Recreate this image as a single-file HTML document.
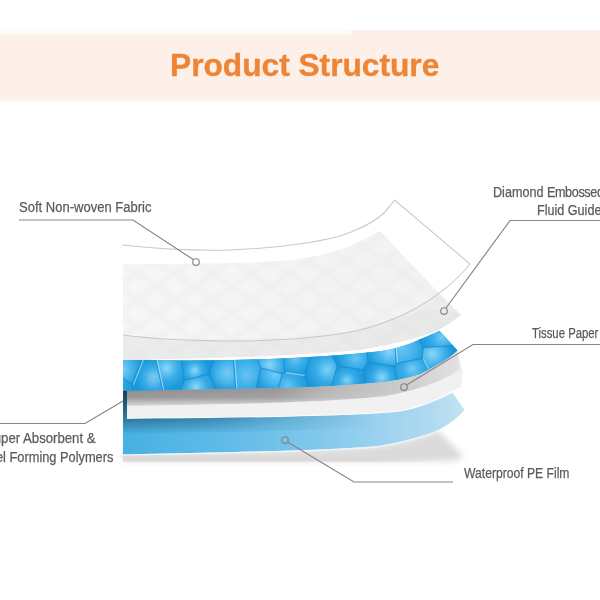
<!DOCTYPE html>
<html>
<head>
<meta charset="utf-8">
<style>
html,body{margin:0;padding:0;background:#fff;}
body{width:600px;height:600px;position:relative;overflow:hidden;font-family:"Liberation Sans",sans-serif;}
.band{position:absolute;background:#fdf0e8;}
.title{position:absolute;left:169.6px;top:49.2px;transform-origin:0 0;transform:scaleX(0.99);font-weight:bold;font-size:32px;line-height:32px;color:#ee8536;white-space:nowrap;-webkit-text-stroke:0.4px #ee8536;}
.lbl{position:absolute;font-size:14px;line-height:16px;color:#5b5b5b;-webkit-text-stroke:0.25px #5b5b5b;white-space:nowrap;transform-origin:0 0;}
svg{position:absolute;left:0;top:0;}
</style>
</head>
<body>
<div class="band" style="left:0;top:35px;width:351px;height:65px;"></div>
<div class="band" style="left:0;top:29px;width:351px;height:6px;background:#fefaf7;"></div>
<div class="band" style="left:351px;top:30px;width:249px;height:70px;"></div>
<div class="band" style="left:0;top:100px;width:600px;height:2px;background:#fef8f4;"></div>
<div class="title">Product Structure</div>

<svg width="600" height="600" viewBox="0 0 600 600">
  <defs>
    <filter id="blur3" x="-20%" y="-50%" width="140%" height="200%"><feGaussianBlur stdDeviation="3"/></filter>
    <filter id="blur2" x="-20%" y="-50%" width="140%" height="200%"><feGaussianBlur stdDeviation="2"/></filter>
    <filter id="blur1" x="-20%" y="-50%" width="140%" height="200%"><feGaussianBlur stdDeviation="1"/></filter>
    <linearGradient id="film" x1="123" y1="0" x2="465" y2="0" gradientUnits="userSpaceOnUse">
      <stop offset="0" stop-color="#48b0e2"/>
      <stop offset="0.3" stop-color="#5fbbe8"/>
      <stop offset="0.55" stop-color="#7fc7ec"/>
      <stop offset="0.75" stop-color="#9bd2ef"/>
      <stop offset="0.9" stop-color="#b0daf1"/>
      <stop offset="1" stop-color="#c2e2f3"/>
    </linearGradient>
    <linearGradient id="filmtop" x1="0" y1="419" x2="0" y2="434" gradientUnits="userSpaceOnUse">
      <stop offset="0" stop-color="#2a6a8c" stop-opacity="0.85"/>
      <stop offset="0.6" stop-color="#2f7aa0" stop-opacity="0.45"/>
      <stop offset="1" stop-color="#2f7aa0" stop-opacity="0"/>
    </linearGradient>
    <linearGradient id="filmtopfade" x1="123" y1="0" x2="440" y2="0" gradientUnits="userSpaceOnUse">
      <stop offset="0" stop-color="#fff" stop-opacity="1"/>
      <stop offset="0.25" stop-color="#fff" stop-opacity="0.75"/>
      <stop offset="0.5" stop-color="#fff" stop-opacity="0.3"/>
      <stop offset="0.8" stop-color="#fff" stop-opacity="0"/>
    </linearGradient>
    <mask id="ftmask"><rect x="0" y="0" width="600" height="600" fill="url(#filmtopfade)"/></mask>
    <linearGradient id="tissueShade" x1="0" y1="389" x2="0" y2="408" gradientUnits="userSpaceOnUse">
      <stop offset="0" stop-color="#8f8d8f"/>
      <stop offset="0.45" stop-color="#9a999a"/>
      <stop offset="0.7" stop-color="#bdbdbd"/>
      <stop offset="1" stop-color="#ebebeb"/>
    </linearGradient>
    <linearGradient id="tsfade" x1="123" y1="0" x2="460" y2="0" gradientUnits="userSpaceOnUse">
      <stop offset="0" stop-color="#fff" stop-opacity="1"/>
      <stop offset="0.45" stop-color="#fff" stop-opacity="0.9"/>
      <stop offset="0.6" stop-color="#fff" stop-opacity="0.6"/>
      <stop offset="0.85" stop-color="#fff" stop-opacity="0.35"/>
      <stop offset="1" stop-color="#fff" stop-opacity="0.15"/>
    </linearGradient>
    <mask id="tsmask"><rect x="0" y="0" width="600" height="600" fill="url(#tsfade)"/></mask>
    <linearGradient id="tex" x1="123" y1="0" x2="460" y2="0" gradientUnits="userSpaceOnUse">
      <stop offset="0" stop-color="#f5f5f5"/>
      <stop offset="1" stop-color="#efefef"/>
    </linearGradient>
    <linearGradient id="shfade" x1="123" y1="0" x2="443" y2="0" gradientUnits="userSpaceOnUse">
      <stop offset="0.8" stop-color="#dcdad9" stop-opacity="1"/>
      <stop offset="1" stop-color="#dcdad9" stop-opacity="0"/>
    </linearGradient>
    <linearGradient id="ledge" x1="0" y1="389" x2="0" y2="420" gradientUnits="userSpaceOnUse">
      <stop offset="0" stop-color="#163f52"/>
      <stop offset="0.4" stop-color="#1d5670"/>
      <stop offset="1" stop-color="#2f7fa8"/>
    </linearGradient>
    <clipPath id="sapclip">
      <path d="M123 359.6 C160 360.5 200 360.8 250 359.5 C290 358.5 340 356 380 351.3 C400 348 410 344 420 339.3 C428 336 434 333.5 439.5 330.8 L457.5 350.5 C451 356 446 360 440 363 C433 367 426 371 420 374 C405 378.5 395 380.5 380 382 C350 385 320 386.5 300 387.3 C250 388.5 200 389.2 123 390.8 Z"/>
    </clipPath>
    <clipPath id="texclip">
      <path d="M123 264 C200 264 250 263 280 261 C305 259 325 255 345 248 C360 242 370 236 380 231 L433 287 L461 315 C455 320 448 325 440 329 C420 338 400 343 360 350 C300 356 220 358 123 360 Z"/>
    </clipPath>
    <radialGradient id="c0" cx="119.9" cy="369.3" r="21.6" gradientUnits="userSpaceOnUse"><stop offset="0" stop-color="#8cd6f8"/><stop offset="0.55" stop-color="#45b4ec"/><stop offset="1" stop-color="#1c98da"/></radialGradient>
<radialGradient id="c1" cx="109.3" cy="379.9" r="21.4" gradientUnits="userSpaceOnUse"><stop offset="0" stop-color="#80d0f6"/><stop offset="0.55" stop-color="#36ace8"/><stop offset="1" stop-color="#209ddd"/></radialGradient>
<radialGradient id="c2" cx="153.9" cy="377.6" r="18.6" gradientUnits="userSpaceOnUse"><stop offset="0" stop-color="#80d0f6"/><stop offset="0.55" stop-color="#36ace8"/><stop offset="1" stop-color="#1c98da"/></radialGradient>
<radialGradient id="c3" cx="166.5" cy="368.4" r="21.0" gradientUnits="userSpaceOnUse"><stop offset="0" stop-color="#8cd6f8"/><stop offset="0.55" stop-color="#36ace8"/><stop offset="1" stop-color="#1c98da"/></radialGradient>
<radialGradient id="c4" cx="194.6" cy="370.4" r="14.2" gradientUnits="userSpaceOnUse"><stop offset="0" stop-color="#8cd6f8"/><stop offset="0.55" stop-color="#36ace8"/><stop offset="1" stop-color="#1c98da"/></radialGradient>
<radialGradient id="c5" cx="196.0" cy="387.0" r="19.3" gradientUnits="userSpaceOnUse"><stop offset="0" stop-color="#8cd6f8"/><stop offset="0.55" stop-color="#36ace8"/><stop offset="1" stop-color="#209ddd"/></radialGradient>
<radialGradient id="c6" cx="227.5" cy="373.0" r="18.7" gradientUnits="userSpaceOnUse"><stop offset="0" stop-color="#74cbf4"/><stop offset="0.55" stop-color="#45b4ec"/><stop offset="1" stop-color="#1c98da"/></radialGradient>
<radialGradient id="c7" cx="246.5" cy="374.6" r="21.3" gradientUnits="userSpaceOnUse"><stop offset="0" stop-color="#68c4f2"/><stop offset="0.55" stop-color="#3db0ea"/><stop offset="1" stop-color="#24a1e0"/></radialGradient>
<radialGradient id="c8" cx="269.7" cy="365.1" r="20.5" gradientUnits="userSpaceOnUse"><stop offset="0" stop-color="#8cd6f8"/><stop offset="0.55" stop-color="#3db0ea"/><stop offset="1" stop-color="#1c98da"/></radialGradient>
<radialGradient id="c9" cx="275.1" cy="374.0" r="19.0" gradientUnits="userSpaceOnUse"><stop offset="0" stop-color="#74cbf4"/><stop offset="0.55" stop-color="#45b4ec"/><stop offset="1" stop-color="#1c98da"/></radialGradient>
<radialGradient id="c10" cx="295.2" cy="359.4" r="15.6" gradientUnits="userSpaceOnUse"><stop offset="0" stop-color="#68c4f2"/><stop offset="0.55" stop-color="#36ace8"/><stop offset="1" stop-color="#209ddd"/></radialGradient>
<radialGradient id="c11" cx="287.5" cy="385.9" r="18.6" gradientUnits="userSpaceOnUse"><stop offset="0" stop-color="#68c4f2"/><stop offset="0.55" stop-color="#36ace8"/><stop offset="1" stop-color="#209ddd"/></radialGradient>
<radialGradient id="c12" cx="327.3" cy="369.6" r="21.8" gradientUnits="userSpaceOnUse"><stop offset="0" stop-color="#80d0f6"/><stop offset="0.55" stop-color="#36ace8"/><stop offset="1" stop-color="#1c98da"/></radialGradient>
<radialGradient id="c13" cx="355.9" cy="358.3" r="18.6" gradientUnits="userSpaceOnUse"><stop offset="0" stop-color="#68c4f2"/><stop offset="0.55" stop-color="#36ace8"/><stop offset="1" stop-color="#1c98da"/></radialGradient>
<radialGradient id="c14" cx="346.9" cy="380.5" r="14.5" gradientUnits="userSpaceOnUse"><stop offset="0" stop-color="#80d0f6"/><stop offset="0.55" stop-color="#36ace8"/><stop offset="1" stop-color="#209ddd"/></radialGradient>
<radialGradient id="c15" cx="389.0" cy="351.2" r="20.4" gradientUnits="userSpaceOnUse"><stop offset="0" stop-color="#8cd6f8"/><stop offset="0.55" stop-color="#45b4ec"/><stop offset="1" stop-color="#209ddd"/></radialGradient>
<radialGradient id="c16" cx="381.8" cy="377.1" r="16.7" gradientUnits="userSpaceOnUse"><stop offset="0" stop-color="#8cd6f8"/><stop offset="0.55" stop-color="#36ace8"/><stop offset="1" stop-color="#1c98da"/></radialGradient>
<radialGradient id="c17" cx="402.2" cy="348.7" r="21.3" gradientUnits="userSpaceOnUse"><stop offset="0" stop-color="#68c4f2"/><stop offset="0.55" stop-color="#45b4ec"/><stop offset="1" stop-color="#24a1e0"/></radialGradient>
<radialGradient id="c18" cx="412.2" cy="368.8" r="18.8" gradientUnits="userSpaceOnUse"><stop offset="0" stop-color="#74cbf4"/><stop offset="0.55" stop-color="#36ace8"/><stop offset="1" stop-color="#24a1e0"/></radialGradient>
<radialGradient id="c19" cx="441.9" cy="337.2" r="19.0" gradientUnits="userSpaceOnUse"><stop offset="0" stop-color="#74cbf4"/><stop offset="0.55" stop-color="#36ace8"/><stop offset="1" stop-color="#209ddd"/></radialGradient>
<radialGradient id="c20" cx="432.5" cy="353.6" r="20.1" gradientUnits="userSpaceOnUse"><stop offset="0" stop-color="#8cd6f8"/><stop offset="0.55" stop-color="#45b4ec"/><stop offset="1" stop-color="#1c98da"/></radialGradient>
<radialGradient id="c21" cx="459.7" cy="368.1" r="20.4" gradientUnits="userSpaceOnUse"><stop offset="0" stop-color="#8cd6f8"/><stop offset="0.55" stop-color="#45b4ec"/><stop offset="1" stop-color="#1c98da"/></radialGradient>
<radialGradient id="c22" cx="470.7" cy="368.4" r="14.2" gradientUnits="userSpaceOnUse"><stop offset="0" stop-color="#74cbf4"/><stop offset="0.55" stop-color="#3db0ea"/><stop offset="1" stop-color="#209ddd"/></radialGradient>
  </defs>

  <!-- shadow under film -->
  <path d="M123 452 L123 461 L450 461 C458 460.5 462 459 463 456 L438 431 C420 438 400 442.5 380 445.8 C340 450 250 452 123 452 Z" fill="#dadada" filter="url(#blur3)"/>
  <rect x="123" y="455.5" width="320" height="6" fill="url(#shfade)"/>

  <!-- PE film -->
  <path d="M123 419 C250 418 360 416 400 411.5 C420 408 438 400 452.5 392.7 L464.5 410 C455 421 442 429 430 433.3 C415 438.5 400 442.5 380 445.8 C340 450 250 452 123 454.5 Z" fill="url(#film)"/>
  <g mask="url(#ftmask)">
    <path d="M123 419 C250 418 360 416 400 411.5 C420 408 438 400 452.5 392.7 L452.5 407 C438 414 420 422 400 425.5 C360 430 250 432 123 434 Z" fill="url(#filmtop)"/>
  </g>
  <path d="M123 455 C250 452.5 340 450.5 380 446.3 C400 443 415 439 430 434" fill="none" stroke="#eef6fb" stroke-width="1.2"/>

  <!-- tissue paper -->
  <path d="M127 389 L127 418 C250 417.5 360 415 400 410.5 C420 407 438 399 452 391 L461 387 L463 370 L457 350 Z" fill="#f1f1f1"/>
  <!-- shadow under SAP on tissue -->
  <g mask="url(#tsmask)">
  <path d="M127 389 L127 406 C250 404 330 402 385 396 C415 391 440 382 460 370 L457 350 C451 356 446 360 440 363 C433 367 426 371 420 374 C405 378.5 395 380.5 380 382 C350 385 320 386.5 300 387.3 C250 388.5 200 389.2 127 390 Z" fill="url(#tissueShade)"/>
  </g>
  <!-- dark left edge -->
  <rect x="123" y="389" width="4" height="31" fill="url(#ledge)"/>

  <!-- SAP blue layer -->
  <path d="M123 359.6 C160 360.5 200 360.8 250 359.5 C290 358.5 340 356 380 351.3 C400 348 410 344 420 339.3 C428 336 434 333.5 439.5 330.8 L457.5 350.5 C451 356 446 360 440 363 C433 367 426 371 420 374 C405 378.5 395 380.5 380 382 C350 385 320 386.5 300 387.3 C250 388.5 200 389.2 123 390.8 Z" fill="#2aa3e0"/>
  <g clip-path="url(#sapclip)">
    <path d="M101.5 310.4 L91.5 325.0 L83.0 351.1 L132.1 384.3 L151.1 336.9 L154.2 312.5 L135.0 308.3 L105.0 309.4 Z" fill="url(#c0)" stroke="#1a88cc" stroke-opacity="0.5" stroke-width="1.1"/>
<line x1="151.1" y1="336.9" x2="154.2" y2="312.5" stroke="#b5e6fb" stroke-opacity="0.7" stroke-width="1.2" transform="translate(1.2 0.6)"/>
<path d="M75.3 385.0 L80.7 355.0 L83.0 351.1 L132.1 384.3 L141.0 438.8 L135.0 440.7 L105.0 442.3 L98.6 441.0 L82.1 415.0 Z" fill="url(#c1)" stroke="#1a88cc" stroke-opacity="0.5" stroke-width="1.1"/>
<line x1="80.7" y1="355.0" x2="83.0" y2="351.1" stroke="#b5e6fb" stroke-opacity="0.7" stroke-width="1.2" transform="translate(1.2 0.6)"/>
<path d="M167.3 438.1 L169.5 421.7 L151.1 336.9 L132.1 384.3 L141.0 438.8 L165.0 438.7 Z" fill="url(#c2)" stroke="#1a88cc" stroke-opacity="0.5" stroke-width="1.1"/>
<line x1="151.1" y1="336.9" x2="132.1" y2="384.3" stroke="#b5e6fb" stroke-opacity="0.7" stroke-width="1.2" transform="translate(1.2 0.6)"/>
<path d="M175.0 311.6 L165.0 310.7 L154.2 312.5 L151.1 336.9 L169.5 421.7 L184.4 380.5 Z" fill="url(#c3)" stroke="#1a88cc" stroke-opacity="0.5" stroke-width="1.1"/>
<line x1="151.1" y1="336.9" x2="169.5" y2="421.7" stroke="#b5e6fb" stroke-opacity="0.7" stroke-width="1.2" transform="translate(1.2 0.6)"/>
<path d="M223.2 311.9 L195.0 308.8 L175.0 311.6 L184.4 380.5 L209.5 374.1 Z" fill="url(#c4)" stroke="#1a88cc" stroke-opacity="0.5" stroke-width="1.1"/>
<line x1="223.2" y1="311.9" x2="195.0" y2="308.8" stroke="#b5e6fb" stroke-opacity="0.7" stroke-width="1.2" transform="translate(1.2 0.6)"/>
<path d="M209.5 374.1 L184.4 380.5 L169.5 421.7 L167.3 438.1 L195.0 443.0 L225.0 440.5 L235.0 437.1 Z" fill="url(#c5)" stroke="#1a88cc" stroke-opacity="0.5" stroke-width="1.1"/>
<line x1="167.3" y1="438.1" x2="195.0" y2="443.0" stroke="#b5e6fb" stroke-opacity="0.7" stroke-width="1.2" transform="translate(1.2 0.6)"/>
<path d="M223.2 311.9 L209.5 374.1 L235.0 437.1 L239.3 436.5 L230.1 312.4 L225.0 311.7 Z" fill="url(#c6)" stroke="#1a88cc" stroke-opacity="0.5" stroke-width="1.1"/>
<line x1="235.0" y1="437.1" x2="239.3" y2="436.5" stroke="#b5e6fb" stroke-opacity="0.7" stroke-width="1.2" transform="translate(1.2 0.6)"/>
<path d="M230.1 312.4 L242.6 311.8 L260.6 367.8 L245.6 436.9 L239.3 436.5 Z" fill="url(#c7)" stroke="#1a88cc" stroke-opacity="0.5" stroke-width="1.1"/>
<line x1="239.3" y1="436.5" x2="230.1" y2="312.4" stroke="#b5e6fb" stroke-opacity="0.7" stroke-width="1.2" transform="translate(1.2 0.6)"/>
<path d="M242.6 311.8 L255.0 307.9 L279.2 306.7 L284.8 372.0 L282.1 374.0 L260.6 367.8 Z" fill="url(#c8)" stroke="#1a88cc" stroke-opacity="0.5" stroke-width="1.1"/>
<line x1="279.2" y1="306.7" x2="284.8" y2="372.0" stroke="#b5e6fb" stroke-opacity="0.7" stroke-width="1.2" transform="translate(1.2 0.6)"/>
<path d="M260.6 367.8 L282.1 374.0 L266.0 439.4 L255.0 439.3 L245.6 436.9 Z" fill="url(#c9)" stroke="#1a88cc" stroke-opacity="0.5" stroke-width="1.1"/>
<line x1="266.0" y1="439.4" x2="255.0" y2="439.3" stroke="#b5e6fb" stroke-opacity="0.7" stroke-width="1.2" transform="translate(1.2 0.6)"/>
<path d="M284.8 372.0 L279.2 306.7 L285.0 305.6 L315.0 307.6 L317.2 308.3 L318.8 326.3 L304.8 375.1 Z" fill="url(#c10)" stroke="#1a88cc" stroke-opacity="0.5" stroke-width="1.1"/>
<line x1="279.2" y1="306.7" x2="285.0" y2="305.6" stroke="#b5e6fb" stroke-opacity="0.7" stroke-width="1.2" transform="translate(1.2 0.6)"/>
<path d="M323.6 436.8 L322.3 421.2 L304.8 375.1 L284.8 372.0 L282.1 374.0 L266.0 439.4 L285.0 442.6 L315.0 439.8 Z" fill="url(#c11)" stroke="#1a88cc" stroke-opacity="0.5" stroke-width="1.1"/>
<line x1="304.8" y1="375.1" x2="284.8" y2="372.0" stroke="#b5e6fb" stroke-opacity="0.7" stroke-width="1.2" transform="translate(1.2 0.6)"/>
<path d="M304.8 375.1 L318.8 326.3 L337.3 365.9 L322.3 421.2 Z" fill="url(#c12)" stroke="#1a88cc" stroke-opacity="0.5" stroke-width="1.1"/>
<line x1="337.3" y1="365.9" x2="322.3" y2="421.2" stroke="#b5e6fb" stroke-opacity="0.7" stroke-width="1.2" transform="translate(1.2 0.6)"/>
<path d="M368.0 362.0 L363.3 369.9 L337.3 365.9 L318.8 326.3 L317.2 308.3 L345.0 302.8 L362.4 304.2 Z" fill="url(#c13)" stroke="#1a88cc" stroke-opacity="0.5" stroke-width="1.1"/>
<line x1="362.4" y1="304.2" x2="368.0" y2="362.0" stroke="#b5e6fb" stroke-opacity="0.7" stroke-width="1.2" transform="translate(1.2 0.6)"/>
<path d="M323.6 436.8 L322.3 421.2 L337.3 365.9 L363.3 369.9 L371.2 437.4 L345.0 440.0 Z" fill="url(#c14)" stroke="#1a88cc" stroke-opacity="0.5" stroke-width="1.1"/>
<line x1="363.3" y1="369.9" x2="371.2" y2="437.4" stroke="#b5e6fb" stroke-opacity="0.7" stroke-width="1.2" transform="translate(1.2 0.6)"/>
<path d="M391.0 302.4 L375.0 301.4 L362.4 304.2 L368.0 362.0 L394.8 366.4 L396.5 363.4 Z" fill="url(#c15)" stroke="#1a88cc" stroke-opacity="0.5" stroke-width="1.1"/>
<line x1="394.8" y1="366.4" x2="396.5" y2="363.4" stroke="#b5e6fb" stroke-opacity="0.7" stroke-width="1.2" transform="translate(1.2 0.6)"/>
<path d="M394.8 366.4 L404.6 435.7 L375.0 438.0 L371.2 437.4 L363.3 369.9 L368.0 362.0 Z" fill="url(#c16)" stroke="#1a88cc" stroke-opacity="0.5" stroke-width="1.1"/>
<line x1="404.6" y1="435.7" x2="375.0" y2="438.0" stroke="#b5e6fb" stroke-opacity="0.7" stroke-width="1.2" transform="translate(1.2 0.6)"/>
<path d="M391.0 302.4 L396.5 363.4 L422.1 358.6 L423.3 348.0 L400.8 300.7 Z" fill="url(#c17)" stroke="#1a88cc" stroke-opacity="0.5" stroke-width="1.1"/>
<line x1="391.0" y1="302.4" x2="396.5" y2="363.4" stroke="#b5e6fb" stroke-opacity="0.7" stroke-width="1.2" transform="translate(1.2 0.6)"/>
<path d="M422.1 358.6 L437.5 386.5 L434.9 433.6 L405.0 435.7 L404.6 435.7 L394.8 366.4 L396.5 363.4 Z" fill="url(#c18)" stroke="#1a88cc" stroke-opacity="0.5" stroke-width="1.1"/>
<line x1="434.9" y1="433.6" x2="405.0" y2="435.7" stroke="#b5e6fb" stroke-opacity="0.7" stroke-width="1.2" transform="translate(1.2 0.6)"/>
<path d="M400.8 300.7 L405.0 298.5 L435.0 292.9 L465.0 297.6 L491.0 310.5 L457.1 345.2 L423.3 348.0 Z" fill="url(#c19)" stroke="#1a88cc" stroke-opacity="0.5" stroke-width="1.1"/>
<line x1="405.0" y1="298.5" x2="435.0" y2="292.9" stroke="#b5e6fb" stroke-opacity="0.7" stroke-width="1.2" transform="translate(1.2 0.6)"/>
<path d="M423.3 348.0 L457.1 345.2 L446.1 373.0 L437.5 386.5 L422.1 358.6 Z" fill="url(#c20)" stroke="#1a88cc" stroke-opacity="0.5" stroke-width="1.1"/>
<line x1="437.5" y1="386.5" x2="422.1" y2="358.6" stroke="#b5e6fb" stroke-opacity="0.7" stroke-width="1.2" transform="translate(1.2 0.6)"/>
<path d="M457.1 345.2 L446.1 373.0 L512.5 360.4 L512.7 355.0 L504.6 325.0 L496.9 311.7 L495.0 311.0 L491.0 310.5 Z" fill="url(#c21)" stroke="#1a88cc" stroke-opacity="0.5" stroke-width="1.1"/>
<line x1="504.6" y1="325.0" x2="496.9" y2="311.7" stroke="#b5e6fb" stroke-opacity="0.7" stroke-width="1.2" transform="translate(1.2 0.6)"/>
<path d="M465.0 437.4 L493.1 434.2 L504.7 415.0 L513.3 385.0 L512.5 360.4 L446.1 373.0 L437.5 386.5 L434.9 433.6 L435.0 433.7 Z" fill="url(#c22)" stroke="#1a88cc" stroke-opacity="0.5" stroke-width="1.1"/>
<line x1="504.7" y1="415.0" x2="513.3" y2="385.0" stroke="#b5e6fb" stroke-opacity="0.7" stroke-width="1.2" transform="translate(1.2 0.6)"/>
    <circle cx="153" cy="382" r="4" fill="none" stroke="#6fb7d8" stroke-width="1" opacity="0.8"/>
  </g>

  <!-- textured layer -->
  <path d="M123 264 C200 264 250 263 280 261 C305 259 325 255 345 248 C360 242 370 236 380 231 L433 287 L461 315 C455 320 448 325 440 329 C420 338 400 343 360 350 C300 356 220 358 123 360 Z" fill="url(#tex)"/>
  <g clip-path="url(#texclip)" stroke="#e3e3e3" stroke-width="4" opacity="0.45" filter="url(#blur2)">
    <line x1="-700" y1="220" x2="-470" y2="380"/>
<line x1="-700" y1="380" x2="-470" y2="220"/>
<line x1="-662" y1="220" x2="-432" y2="380"/>
<line x1="-662" y1="380" x2="-432" y2="220"/>
<line x1="-624" y1="220" x2="-394" y2="380"/>
<line x1="-624" y1="380" x2="-394" y2="220"/>
<line x1="-586" y1="220" x2="-356" y2="380"/>
<line x1="-586" y1="380" x2="-356" y2="220"/>
<line x1="-548" y1="220" x2="-318" y2="380"/>
<line x1="-548" y1="380" x2="-318" y2="220"/>
<line x1="-510" y1="220" x2="-280" y2="380"/>
<line x1="-510" y1="380" x2="-280" y2="220"/>
<line x1="-472" y1="220" x2="-242" y2="380"/>
<line x1="-472" y1="380" x2="-242" y2="220"/>
<line x1="-434" y1="220" x2="-204" y2="380"/>
<line x1="-434" y1="380" x2="-204" y2="220"/>
<line x1="-396" y1="220" x2="-166" y2="380"/>
<line x1="-396" y1="380" x2="-166" y2="220"/>
<line x1="-358" y1="220" x2="-128" y2="380"/>
<line x1="-358" y1="380" x2="-128" y2="220"/>
<line x1="-320" y1="220" x2="-90" y2="380"/>
<line x1="-320" y1="380" x2="-90" y2="220"/>
<line x1="-282" y1="220" x2="-52" y2="380"/>
<line x1="-282" y1="380" x2="-52" y2="220"/>
<line x1="-244" y1="220" x2="-14" y2="380"/>
<line x1="-244" y1="380" x2="-14" y2="220"/>
<line x1="-206" y1="220" x2="24" y2="380"/>
<line x1="-206" y1="380" x2="24" y2="220"/>
<line x1="-168" y1="220" x2="62" y2="380"/>
<line x1="-168" y1="380" x2="62" y2="220"/>
<line x1="-130" y1="220" x2="100" y2="380"/>
<line x1="-130" y1="380" x2="100" y2="220"/>
<line x1="-92" y1="220" x2="138" y2="380"/>
<line x1="-92" y1="380" x2="138" y2="220"/>
<line x1="-54" y1="220" x2="176" y2="380"/>
<line x1="-54" y1="380" x2="176" y2="220"/>
<line x1="-16" y1="220" x2="214" y2="380"/>
<line x1="-16" y1="380" x2="214" y2="220"/>
<line x1="22" y1="220" x2="252" y2="380"/>
<line x1="22" y1="380" x2="252" y2="220"/>
<line x1="60" y1="220" x2="290" y2="380"/>
<line x1="60" y1="380" x2="290" y2="220"/>
<line x1="98" y1="220" x2="328" y2="380"/>
<line x1="98" y1="380" x2="328" y2="220"/>
<line x1="136" y1="220" x2="366" y2="380"/>
<line x1="136" y1="380" x2="366" y2="220"/>
<line x1="174" y1="220" x2="404" y2="380"/>
<line x1="174" y1="380" x2="404" y2="220"/>
<line x1="212" y1="220" x2="442" y2="380"/>
<line x1="212" y1="380" x2="442" y2="220"/>
<line x1="250" y1="220" x2="480" y2="380"/>
<line x1="250" y1="380" x2="480" y2="220"/>
<line x1="288" y1="220" x2="518" y2="380"/>
<line x1="288" y1="380" x2="518" y2="220"/>
<line x1="326" y1="220" x2="556" y2="380"/>
<line x1="326" y1="380" x2="556" y2="220"/>
<line x1="364" y1="220" x2="594" y2="380"/>
<line x1="364" y1="380" x2="594" y2="220"/>
<line x1="402" y1="220" x2="632" y2="380"/>
<line x1="402" y1="380" x2="632" y2="220"/>
<line x1="440" y1="220" x2="670" y2="380"/>
<line x1="440" y1="380" x2="670" y2="220"/>
<line x1="478" y1="220" x2="708" y2="380"/>
<line x1="478" y1="380" x2="708" y2="220"/>
<line x1="516" y1="220" x2="746" y2="380"/>
<line x1="516" y1="380" x2="746" y2="220"/>
<line x1="554" y1="220" x2="784" y2="380"/>
<line x1="554" y1="380" x2="784" y2="220"/>
<line x1="592" y1="220" x2="822" y2="380"/>
<line x1="592" y1="380" x2="822" y2="220"/>
<line x1="630" y1="220" x2="860" y2="380"/>
<line x1="630" y1="380" x2="860" y2="220"/>
<line x1="668" y1="220" x2="898" y2="380"/>
<line x1="668" y1="380" x2="898" y2="220"/>
<line x1="706" y1="220" x2="936" y2="380"/>
<line x1="706" y1="380" x2="936" y2="220"/>
<line x1="744" y1="220" x2="974" y2="380"/>
<line x1="744" y1="380" x2="974" y2="220"/>
<line x1="782" y1="220" x2="1012" y2="380"/>
<line x1="782" y1="380" x2="1012" y2="220"/>
<line x1="820" y1="220" x2="1050" y2="380"/>
<line x1="820" y1="380" x2="1050" y2="220"/>
<line x1="858" y1="220" x2="1088" y2="380"/>
<line x1="858" y1="380" x2="1088" y2="220"/>
<line x1="896" y1="220" x2="1126" y2="380"/>
<line x1="896" y1="380" x2="1126" y2="220"/>
<line x1="934" y1="220" x2="1164" y2="380"/>
<line x1="934" y1="380" x2="1164" y2="220"/>
<line x1="972" y1="220" x2="1202" y2="380"/>
<line x1="972" y1="380" x2="1202" y2="220"/>
<line x1="1010" y1="220" x2="1240" y2="380"/>
<line x1="1010" y1="380" x2="1240" y2="220"/>
<line x1="1048" y1="220" x2="1278" y2="380"/>
<line x1="1048" y1="380" x2="1278" y2="220"/>
<line x1="1086" y1="220" x2="1316" y2="380"/>
<line x1="1086" y1="380" x2="1316" y2="220"/>
<line x1="1124" y1="220" x2="1354" y2="380"/>
<line x1="1124" y1="380" x2="1354" y2="220"/>
<line x1="1162" y1="220" x2="1392" y2="380"/>
<line x1="1162" y1="380" x2="1392" y2="220"/>
  </g>
  <path d="M123 336 C190 341 280 341 355 331 C400 318 440 300 461 315 L440 329 C420 338 400 343 360 350 C300 356 220 358 123 360 Z" fill="#e3e3e3" opacity="0.45" clip-path="url(#texclip)"/>

  <!-- top sheet outline -->
  <path d="M122 245 C160 249 190 251 230 250 C280 248 330 241 350 232.5 C365 226.5 377 220 385 212 C389 207 392 203.5 394.6 200 L470 264 C455 283 430 302 405 314 C385 323 370 328 355 331 C320 338 280 340.5 240 341 C195 341 150 338.5 123 335" fill="rgba(255,255,255,0.2)" stroke="#c9c9c9" stroke-width="1.1"/>

  <!-- callouts -->
  <g fill="none" stroke="#858585" stroke-width="1.15">
    <polyline points="19,220 133,220 193.3,259.6"/>
    <circle cx="196" cy="262" r="3.3" fill="#fff"/>
    <polyline points="600,220.5 510,220.5 446,308"/>
    <circle cx="444" cy="311" r="3.3"/>
    <polyline points="600,344.5 473,344.5 406.5,385"/>
    <circle cx="404" cy="387" r="3.3"/>
    <polyline points="0,423.5 85,423.5 123,401"/>
    <polyline points="287.5,442 354,482 453,482"/>
    <circle cx="285" cy="440" r="3.3"/>
  </g>
</svg>

<div class="lbl" style="left:18.5px;top:198.8px;transform:scaleX(0.93);">Soft Non-woven Fabric</div>
<div class="lbl" style="left:493px;top:183.8px;transform:scaleX(0.9);">Diamond <span style="letter-spacing:-0.4px">Embossed</span></div>
<div class="lbl" style="left:537px;top:202.2px;transform:scaleX(0.9);">Fluid Guide</div>
<div class="lbl" style="left:532px;top:324.5px;transform:scaleX(0.81);">Tissue Paper</div>
<div class="lbl" style="left:-14.8px;top:429.7px;transform:scaleX(0.94);">Super Absorbent &amp;</div>
<div class="lbl" style="left:-13.7px;top:449px;transform:scaleX(0.915);">Gel Forming Polymers</div>
<div class="lbl" style="left:463.5px;top:464.5px;transform:scaleX(0.867);">Waterproof PE Film</div>
</body>
</html>
